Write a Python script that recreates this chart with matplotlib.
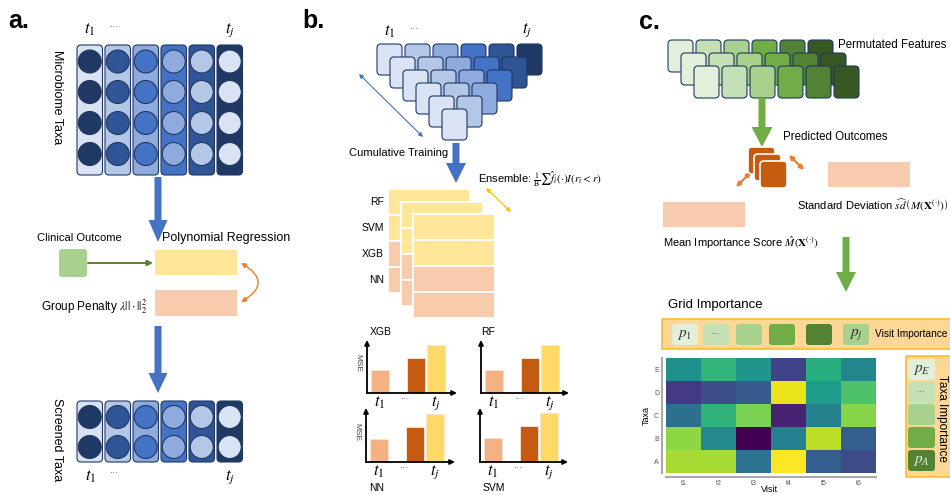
import numpy as np
import matplotlib
matplotlib.use("Agg")
import matplotlib.pyplot as plt
from matplotlib.patches import FancyBboxPatch, Rectangle, Circle, FancyArrow, FancyArrowPatch

plt.rcParams['font.family'] = ['Liberation Sans', 'DejaVu Sans']
plt.rcParams['mathtext.fontset'] = 'stix'

# colour ramps (light -> dark)
blues = ['#dae3f3', '#b4c7e7', '#8faadc', '#4472c4', '#2f5597', '#203864']
greens = ['#e2efda', '#c5e0b4', '#a9d18e', '#70ad47', '#548235', '#385723']
yellow = '#ffe699'
peach = '#f8cbad'
navy = '#203864'
bar_colors = ['#f4b183', '#c55a11', '#ffd966']

# ensemble stack rows
ensemble_models = ['RF', 'SVM', 'XGB', 'NN']

# MSE per time window (t1, ..., tj)
mse_xgb = [0.43, 0.66, 0.90]
mse_rf = [0.43, 0.66, 0.90]
mse_nn = [0.43, 0.64, 0.88]
mse_svm = [0.45, 0.66, 0.90]
bar_pos = [0, 1.8, 2.8]
bar_ticks = [0, 1.3, 2.8]
bar_ticklabels = ['$t_1$', '···', '$t_j$']

# grid importance heatmap
taxa = ['E', 'D', 'C', 'B', 'A']
visits = ['t1', 't2', 't3', 't4', 't5', 't6']
importance = np.array([
    [0.50, 0.66, 0.52, 0.20, 0.63, 0.46],
    [0.17, 0.24, 0.29, 0.97, 0.55, 0.72],
    [0.37, 0.65, 0.80, 0.10, 0.44, 0.82],
    [0.83, 0.47, 0.00, 0.44, 0.90, 0.30],
    [0.87, 0.87, 0.38, 1.00, 0.30, 0.23],
])

W, H = 950, 495
fig = plt.figure(figsize=(W / 100, H / 100), dpi=100)
ax = fig.add_axes([0, 0, 1, 1])
ax.set_xlim(0, W)
ax.set_ylim(H, 0)
ax.axis('off')


def tile(x, y, w, h, fc, ec='none', lw=0.0, r=4, z=2):
    ax.add_patch(FancyBboxPatch((x, y), w, h, boxstyle=f'round,pad=0,rounding_size={r}',
                                fc=fc, ec=ec, lw=lw, zorder=z))


def down_arrow(x, y0, y1, color, w=7, hw=19, hl=20):
    ax.add_patch(FancyArrow(x, y0, 0, y1 - y0, width=w, head_width=hw, head_length=hl,
                            length_includes_head=True, color=color, lw=0, zorder=3))


def dbl_arrow(p0, p1, color, lw=0.9, ms=7, rad=0.0):
    ax.add_patch(FancyArrowPatch(p0, p1, arrowstyle='<|-|>', color=color, lw=lw,
                                 mutation_scale=ms, shrinkA=0, shrinkB=0,
                                 connectionstyle=f'arc3,rad={rad}', zorder=4))


def sub_axes(x0, y0, x1, y1):
    a = fig.add_axes([x0 / W, 1 - y1 / H, (x1 - x0) / W, (y1 - y0) / H])
    a.patch.set_visible(False)
    return a


def dots(x, y, size=7):
    ax.text(x, y, '···', fontsize=size, color='#555555', ha='center', va='center')


# ---------------- a. ----------------
ax.text(8, 21, 'a.', fontsize=18, fontweight='bold', va='center')


def taxa_columns(y_top, height, circle_ys):
    for i in range(6):
        x = 77 + 28 * i
        tile(x, y_top, 25.5, height, blues[i], navy, 0.8)
        for cy in circle_ys:
            ax.add_patch(Circle((x + 12.75, cy), 11.5, fc=blues[5 - i], ec=navy, lw=0.8, zorder=3))


taxa_columns(45, 130, [61.5, 92, 123, 154])
ax.text(90, 30, '$t_1$', fontsize=12, ha='center', va='center')
dots(115, 27)
ax.text(230, 30, '$t_j$', fontsize=12, ha='center', va='center')
ax.text(57, 97, 'Microbiome Taxa', fontsize=9, rotation=270, ha='center', va='center')

down_arrow(158, 177, 242, '#4472c4', w=7, hw=19, hl=22)
ax.text(79, 238, 'Clinical Outcome', fontsize=8, ha='center', va='center')
ax.text(226, 238, 'Polynomial Regression', fontsize=9, ha='center', va='center')

tile(59, 249, 28, 28, '#a9d18e', r=3)
ax.annotate('', xy=(153, 263), xytext=(88, 263),
            arrowprops=dict(arrowstyle='-|>', color='#548235', lw=1.4, mutation_scale=8,
                            shrinkA=0, shrinkB=0))
ax.add_patch(Rectangle((155, 250), 82, 25, fc=yellow, ec='none'))
ax.add_patch(Rectangle((155, 290), 82, 26, fc=peach, ec='none'))
dbl_arrow((241, 263), (241, 302), '#ed7d31', lw=1.0, ms=7, rad=-0.85)
ax.text(147, 307, r'Group Penalty $\lambda||\cdot||_2^2$', fontsize=8.5, ha='right', va='center')

down_arrow(158, 326, 393, '#4472c4', w=7, hw=19, hl=20)
taxa_columns(401, 61, [417, 447])
ax.text(57, 440, 'Screened Taxa', fontsize=9, rotation=270, ha='center', va='center')
ax.text(91, 477, '$t_1$', fontsize=12, ha='center', va='center')
dots(115, 473)
ax.text(230, 477, '$t_j$', fontsize=12, ha='center', va='center')

# ---------------- b. ----------------
ax.text(302, 21, 'b.', fontsize=18, fontweight='bold', va='center')
for r in range(6):
    for k in range(6 - r):
        tile(377 + 13 * r + 28 * k, 44 + 13 * r, 25, 31, blues[k], navy, 0.8)
ax.text(390, 32, '$t_1$', fontsize=12, ha='center', va='center')
dots(415, 29)
ax.text(527, 30, '$t_j$', fontsize=12, ha='center', va='center')

dbl_arrow((359, 74), (423, 137), '#4472c4', lw=0.8, ms=6)
ax.text(399, 153, 'Cumulative Training', fontsize=8, ha='center', va='center')
down_arrow(456, 143, 183, '#4472c4', w=7, hw=20, hl=20)
ax.text(478, 179, r'Ensemble: $\frac{1}{\mathrm{B}}\sum\hat{f}_i(\cdot)I(r_i < r)$',
        fontsize=8, ha='left', va='center')
dbl_arrow((486, 188), (511, 212), '#ffc000', lw=0.9, ms=6)

for p in range(3):
    x0 = 388 + 12.5 * p
    y0 = 189 + 12.5 * p
    for k, c in enumerate([yellow, yellow, peach, peach]):
        ax.add_patch(Rectangle((x0, y0 + 26 * k), 82, 26, fc=c, ec='white', lw=1.3, zorder=2 + p))
for k, name in enumerate(ensemble_models):
    ax.text(384, 202 + 26 * k, name, fontsize=7.5, ha='right', va='center')


def mse_chart(box, values, title, title_xy, mse_label=True):
    x0, y0, x1, y1 = box
    bx = sub_axes(x0, y0, x1, y1)
    bx.bar(bar_pos, values, width=0.93, color=bar_colors, edgecolor='#fbe5d6', linewidth=0.6)
    bx.set_xlim(-0.65, (x1 - x0 - 13) / 20)
    bx.set_ylim(0, 1)
    for s in bx.spines.values():
        s.set_visible(False)
    bx.set_yticks([])
    bx.set_xticks(bar_ticks, bar_ticklabels)
    bx.tick_params(axis='x', length=0, pad=1, labelsize=12)
    bx.get_xticklabels()[1].set_fontsize(7)
    bx.get_xticklabels()[1].set_color('#555555')
    for xy in [(0, 1), (1, 0)]:
        bx.annotate('', xy=xy, xytext=(0, 0), xycoords='axes fraction', annotation_clip=False,
                    arrowprops=dict(arrowstyle='-|>', color='black', lw=1.3, mutation_scale=7,
                                    shrinkA=0, shrinkB=0))
    ax.text(title_xy[0], title_xy[1], title, fontsize=7.5, ha='left', va='center')
    if mse_label:
        ax.text(x0 - 9, (y0 + y1) / 2 - 3, 'MSE', fontsize=6, color='#444444', rotation=270,
                ha='center', va='center')


mse_chart((367, 340, 457, 393), mse_xgb, 'XGB', (370, 332))
mse_chart((481, 340, 569, 393), mse_rf, 'RF', (481, 332), mse_label=False)
mse_chart((366, 408, 455, 462), mse_nn, 'NN', (369, 488))
mse_chart((480, 408, 568, 462), mse_svm, 'SVM', (483, 488), mse_label=False)

# ---------------- c. ----------------
ax.text(639, 22, 'c.', fontsize=18, fontweight='bold', va='center')
for r in range(3):
    for k in range(6):
        tile(668 + 13 * r + 28 * k, 40 + 13 * r, 25, 32, greens[k], navy, 0.8)
ax.text(838, 45, 'Permutated Features', fontsize=8.3, ha='left', va='center')
down_arrow(762, 98, 147, '#70ad47', w=7, hw=21, hl=20)
ax.text(783, 137, 'Predicted Outcomes', fontsize=8.3, ha='left', va='center')
for k in range(3):
    tile(748 + 6 * k, 147 + 7 * k, 27, 27, '#c55a11', 'white', 1.2, z=5 + k)
dbl_arrow((736, 187), (751, 172), '#ed7d31', lw=1.6, ms=6)
dbl_arrow((789, 155), (804, 170), '#ed7d31', lw=1.6, ms=6)

ax.add_patch(Rectangle((828, 162), 82, 25, fc=peach, ec='none'))
ax.text(797, 205, r'Standard Deviation $\widehat{sd}\,\left(M(\mathbf{X}^{(\cdot)})\right)$',
        fontsize=8, ha='left', va='center')
ax.add_patch(Rectangle((663, 202), 82, 25, fc=peach, ec='none'))
ax.text(663, 243, r'Mean Importance Score $\hat{M}(\mathbf{X}^{(\cdot)})$',
        fontsize=8, ha='left', va='center')
down_arrow(846, 237, 292, '#70ad47', w=7, hw=20, hl=20)

ax.text(668, 305, 'Grid Importance', fontsize=9.5, ha='left', va='center')
band_fc = '#fdd795'
band_ec = '#f9bd2c'
ax.add_patch(Rectangle((662, 319), 300, 30, fc=band_fc, ec=band_ec, lw=1.2))
visit_tiles = [(672, greens[0], '$p_1$'), (703, greens[1], '···'), (736, greens[2], ''),
               (769, greens[3], ''), (806, greens[4], ''), (843, greens[2], '$p_j$')]
for x, c, lab in visit_tiles:
    tile(x, 324, 26, 21, c, r=3)
    if lab == '···':
        dots(x + 13, 334)
    elif lab:
        ax.text(x + 13, 335, lab, fontsize=11, color='#333333', ha='center', va='center')
ax.text(875, 334, 'Visit Importance', fontsize=7.3, ha='left', va='center')

ax.add_patch(Rectangle((906, 356), 60, 121, fc=band_fc, ec=band_ec, lw=1.2))
taxa_tiles = [(359, greens[0], '$p_E$'), (382, greens[1], '···'), (404, greens[2], ''),
              (427, greens[3], ''), (450, greens[4], '$p_A$')]
for y, c, lab in taxa_tiles:
    tile(908, y, 27, 21, c, r=3)
    if lab == '···':
        dots(921.5, y + 10)
    elif lab:
        col = '#e2efda' if c == greens[4] else '#333333'
        ax.text(921.5, y + 11, lab, fontsize=11, color=col, ha='center', va='center')
ax.text(942, 418, 'Taxa Importance', fontsize=8.5, rotation=270, ha='center', va='center')

hx = sub_axes(666, 358, 876, 473)
hx.imshow(importance, cmap='viridis', vmin=0, vmax=1, aspect='auto')
hx.set_xticks(range(len(visits)), visits)
hx.set_yticks(range(len(taxa)), taxa)
hx.tick_params(length=0, labelsize=5, labelcolor='#555555', pad=2)
for side in ['top', 'right']:
    hx.spines[side].set_visible(False)
for side in ['left', 'bottom']:
    hx.spines[side].set_color('#aaaaaa')
    hx.spines[side].set_linewidth(1.5)
    hx.spines[side].set_position(('outward', 3))
ax.text(770, 489, 'Visit', fontsize=6.5, ha='center', va='center')
hx.set_ylabel('Taxa', fontsize=6.5, labelpad=2)

fig.savefig('out.png', dpi=100)
